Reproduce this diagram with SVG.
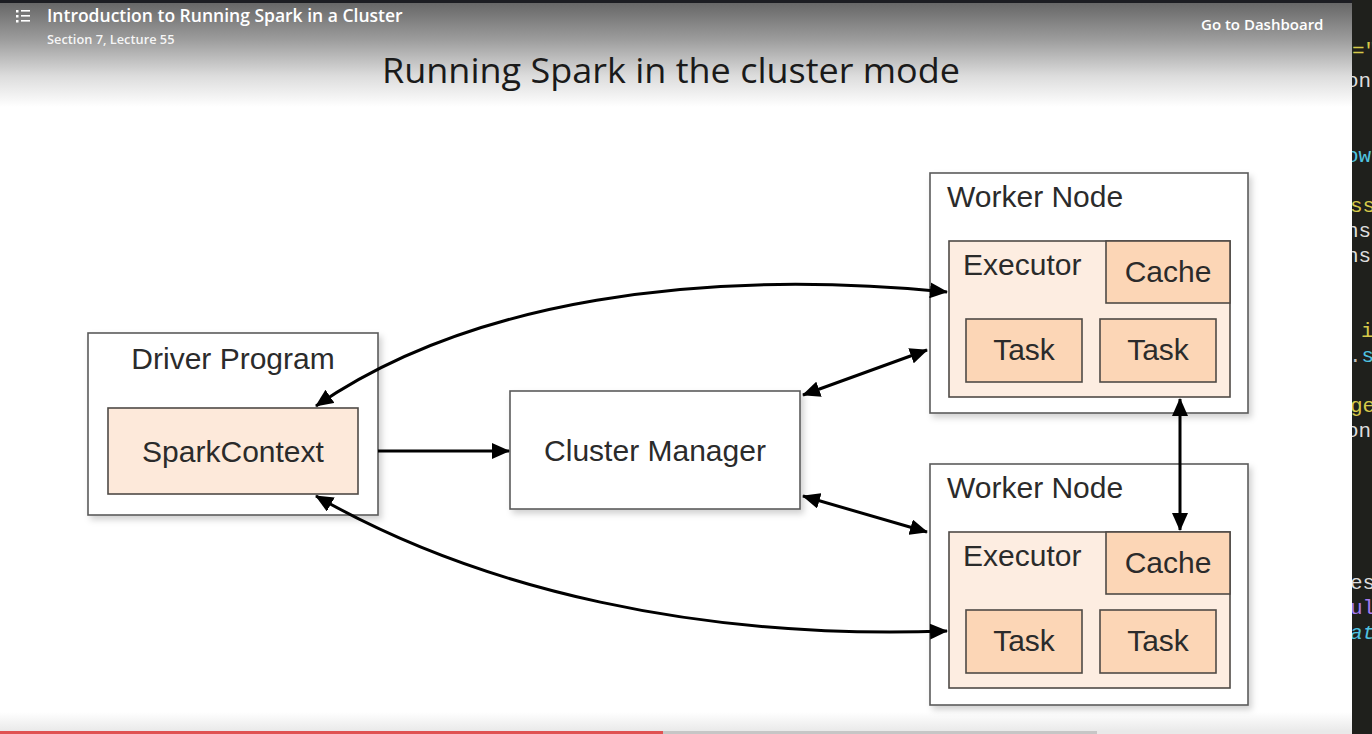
<svg xmlns="http://www.w3.org/2000/svg" width="1372" height="734" viewBox="0 0 1372 734">
<defs>
<linearGradient id="hdr" x1="0" y1="0" x2="0" y2="1">
<stop offset="0" stop-color="#676767"/>
<stop offset="0.35" stop-color="#9c9c9c"/>
<stop offset="0.7" stop-color="#dcdcdc"/>
<stop offset="1" stop-color="#ffffff"/>
</linearGradient>
<linearGradient id="ftr" x1="0" y1="0" x2="0" y2="1">
<stop offset="0" stop-color="#ffffff"/>
<stop offset="1" stop-color="#e6e6e6"/>
</linearGradient>
<filter id="sh" x="-10%" y="-10%" width="125%" height="130%">
<feDropShadow dx="3" dy="4" stdDeviation="3" flood-color="#000" flood-opacity="0.18"/>
</filter>
<marker id="ah" viewBox="0 0 18 16" refX="17" refY="8" markerWidth="18" markerHeight="16" markerUnits="userSpaceOnUse" orient="auto-start-reverse">
<path d="M0,0 L18,8 L0,16 z" fill="#000"/>
</marker>
<clipPath id="strip"><rect x="1352" y="0" width="20" height="734"/></clipPath>
<style>
.box{fill:#fff;stroke:#5a5a5a;stroke-width:1.6}
.pale{fill:#fdede1;stroke:#4f4a46;stroke-width:1.6}
.sc{fill:#fde9da;stroke:#4f4a46;stroke-width:1.6}
.dark{fill:#fcd6b6;stroke:#4f4a46;stroke-width:1.6}
.lbl{font-family:"Liberation Sans",Arial,sans-serif;font-size:30px;fill:#2b2b2b}
.conn{fill:none;stroke:#000;stroke-width:3}
.code{font-family:"Liberation Mono","DejaVu Sans Mono",monospace;font-size:21px}
.ui{font-family:"Open Sans","Noto Sans",sans-serif;fill:#fff}
</style>
</defs>

<!-- slide background -->
<rect x="0" y="0" width="1372" height="734" fill="#ffffff"/>
<rect x="0" y="3" width="1352" height="104" fill="url(#hdr)"/>
<rect x="0" y="712" width="1352" height="22" fill="url(#ftr)"/>
<rect x="0" y="0" width="1372" height="3" fill="#1c1d22"/>

<!-- code editor strip -->
<g id="editor">
<rect x="1352" y="0" width="20" height="734" fill="#1f201c"/>
<g clip-path="url(#strip)" class="code">
<text x="1352" y="57" fill="#d6c94a">="</text>
<text x="1346" y="87" fill="#dddddd">on</text>
<text x="1346" y="162" fill="#4fc3e0">ow</text>
<text x="1350" y="212" fill="#d6c94a">ss</text>
<text x="1346" y="237" fill="#dddddd">ns</text>
<text x="1346" y="262" fill="#dddddd">ns</text>
<text x="1361" y="337" fill="#d6c94a">i</text>
<text x="1349" y="362"><tspan fill="#bbbbbb">.</tspan><tspan fill="#4fc3e0">s</tspan></text>
<text x="1350" y="412" fill="#d6c94a">ge</text>
<text x="1346" y="437" fill="#dddddd">on</text>
<text x="1350" y="589" fill="#dddddd">es</text>
<text x="1350" y="614" fill="#a77cf0">ul</text>
<text x="1350" y="639" fill="#4fc3e0" font-style="italic">at</text>
</g>
</g>

<!-- player header -->
<g id="header">
<g fill="#ffffff">
<rect x="16" y="10" width="2.5" height="2.5"/>
<rect x="16" y="15" width="2.5" height="2.5"/>
<rect x="16" y="20" width="2.5" height="2.5"/>
<rect x="21" y="10" width="9" height="1.6"/>
<rect x="21" y="15" width="9" height="1.6"/>
<rect x="21" y="20" width="9" height="1.6"/>
</g>
<text class="ui" x="47" y="22" font-size="17.5" font-weight="600">Introduction to Running Spark in a Cluster</text>
<text class="ui" x="47" y="44" font-size="12.8" font-weight="600" fill-opacity="0.92">Section 7, Lecture 55</text>
<text class="ui" x="1201" y="30" font-size="15" font-weight="600">Go to Dashboard</text>
</g>

<!-- progress bar -->
<g id="progress">
<rect x="0" y="731" width="1352" height="3" fill="#e9e9e9"/>
<rect x="663" y="731" width="434" height="3" fill="#c6c6c6"/>
<rect x="0" y="731" width="663" height="3" fill="#e05252"/>
</g>

<!-- title -->
<text x="671" y="83" text-anchor="middle" font-family="'Open Sans','Noto Sans',sans-serif" font-size="35" fill="#1a1a1a" textLength="578" lengthAdjust="spacingAndGlyphs">Running Spark in the cluster mode</text>

<!-- Driver Program -->
<g id="driver">
<rect class="box" x="88" y="333" width="290" height="182" filter="url(#sh)"/>
<text class="lbl" x="233" y="369" text-anchor="middle">Driver Program</text>
<g id="sparkcontext">
<rect class="sc" x="108" y="408" width="250" height="86"/>
<text class="lbl" x="233" y="462" text-anchor="middle">SparkContext</text>
</g>
</g>

<!-- Cluster Manager -->
<g id="cluster-manager">
<rect class="box" x="510" y="391" width="290" height="118" filter="url(#sh)"/>
<text class="lbl" x="655" y="461" text-anchor="middle">Cluster Manager</text>
</g>

<!-- Worker Node 1 -->
<g id="worker1">
<rect class="box" x="930" y="173" width="318" height="240" filter="url(#sh)"/>
<text class="lbl" x="947" y="207">Worker Node</text>
<g id="executor1">
<rect class="pale" x="949" y="241" width="281" height="156"/>
<text class="lbl" x="963" y="275">Executor</text>
<rect class="dark" x="1106" y="241" width="124" height="62"/>
<text class="lbl" x="1168" y="282" text-anchor="middle">Cache</text>
<rect class="dark" x="966" y="319" width="116" height="63"/>
<text class="lbl" x="1024" y="360" text-anchor="middle">Task</text>
<rect class="dark" x="1100" y="319" width="116" height="63"/>
<text class="lbl" x="1158" y="360" text-anchor="middle">Task</text>
</g>
</g>

<!-- Worker Node 2 -->
<g id="worker2">
<rect class="box" x="930" y="464" width="318" height="241" filter="url(#sh)"/>
<text class="lbl" x="947" y="498">Worker Node</text>
<g id="executor2">
<rect class="pale" x="949" y="532" width="281" height="156"/>
<text class="lbl" x="963" y="566">Executor</text>
<rect class="dark" x="1106" y="532" width="124" height="62"/>
<text class="lbl" x="1168" y="573" text-anchor="middle">Cache</text>
<rect class="dark" x="966" y="610" width="116" height="63"/>
<text class="lbl" x="1024" y="651" text-anchor="middle">Task</text>
<rect class="dark" x="1100" y="610" width="116" height="63"/>
<text class="lbl" x="1158" y="651" text-anchor="middle">Task</text>
</g>
</g>

<!-- connectors -->
<g id="connectors">
<path class="conn" d="M378,451 L509,451" marker-end="url(#ah)"/>
<path class="conn" d="M316,406 C470,300 700,268 947,292" marker-start="url(#ah)" marker-end="url(#ah)"/>
<path class="conn" d="M316,496 C480,590 700,640 947,631" marker-start="url(#ah)" marker-end="url(#ah)"/>
<path class="conn" d="M803,395 L927,350" marker-start="url(#ah)" marker-end="url(#ah)"/>
<path class="conn" d="M803,496 L927,532" marker-start="url(#ah)" marker-end="url(#ah)"/>
<path class="conn" d="M1180,399 L1180,530" marker-start="url(#ah)" marker-end="url(#ah)"/>
</g>
</svg>
